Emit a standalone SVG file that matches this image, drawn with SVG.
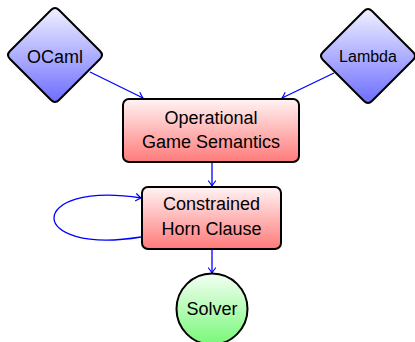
<svg xmlns="http://www.w3.org/2000/svg" width="415" height="342" viewBox="0 0 415 342">
<defs>
<linearGradient id="gBlue" x1="0" y1="0" x2="0" y2="1"><stop offset="0" stop-color="#f0f0ff"/><stop offset="1" stop-color="#6e6eff"/></linearGradient>
<linearGradient id="gRed" x1="0" y1="0" x2="0" y2="1"><stop offset="0" stop-color="#fff4f4"/><stop offset="1" stop-color="#ff7a7a"/></linearGradient>
<linearGradient id="gGreen" x1="0" y1="0" x2="0" y2="1"><stop offset="0" stop-color="#f4fff4"/><stop offset="1" stop-color="#78f878"/></linearGradient>
<marker id="arr" markerUnits="userSpaceOnUse" markerWidth="12" markerHeight="12" viewBox="-6 -6 12 12" refX="0" refY="0" orient="auto">
<path d="M -5,-3.5 Q -1.5,-0.8 0,0 Q -1.5,0.8 -5,3.5" fill="none" stroke="#0000ff" stroke-width="1.2" stroke-linecap="round"/>
</marker>
<style>
.node{stroke:#000;stroke-width:2;}
.lbl{font-family:"Liberation Sans",Arial,sans-serif;font-size:18px;fill:#000;text-anchor:middle;}
.edge{fill:none;stroke:#0000ff;stroke-width:1.3;marker-end:url(#arr);}
</style>
</defs>
<g id="connectors">
<path class="edge" d="M 90,72 L 143,98"/>
<path class="edge" d="M 334,73 L 282,98"/>
<path class="edge" d="M 212,163 L 212,186"/>
<path class="edge" d="M 141,237 C 25,256 25,180 141,198"/>
<path class="edge" d="M 212,249 L 212,273"/>
</g>
<g id="ocaml">
<path class="node" fill="url(#gBlue)" d="M 10,51 L 51,10 Q 55,6 59,10 L 100,51 Q 104,55 100,59 L 59,100 Q 55,104 51,100 L 10,59 Q 6,55 10,51 Z"/>
<text class="lbl" x="55" y="63">OCaml</text>
</g>
<g id="lambda">
<path class="node" fill="url(#gBlue)" d="M 323,52 L 364,11 Q 368,7 372,11 L 413,52 Q 417,56 413,60 L 372,101 Q 368,105 364,101 L 323,60 Q 319,56 323,52 Z"/>
<text class="lbl" x="368" y="62" style="font-size:16px">Lambda</text>
</g>
<g id="ogs">
<rect class="node" fill="url(#gRed)" x="123" y="99" width="176" height="63" rx="6"/>
<text class="lbl" x="211" y="124">Operational</text>
<text class="lbl" x="211" y="148">Game Semantics</text>
</g>
<g id="chc">
<rect class="node" fill="url(#gRed)" x="142" y="187" width="139" height="62" rx="6"/>
<text class="lbl" x="211.5" y="210">Constrained</text>
<text class="lbl" x="211.5" y="235">Horn Clause</text>
</g>
<g id="solver">
<circle class="node" fill="url(#gGreen)" cx="212" cy="309" r="35.5"/>
<text class="lbl" x="212" y="315">Solver</text>
</g>
</svg>
